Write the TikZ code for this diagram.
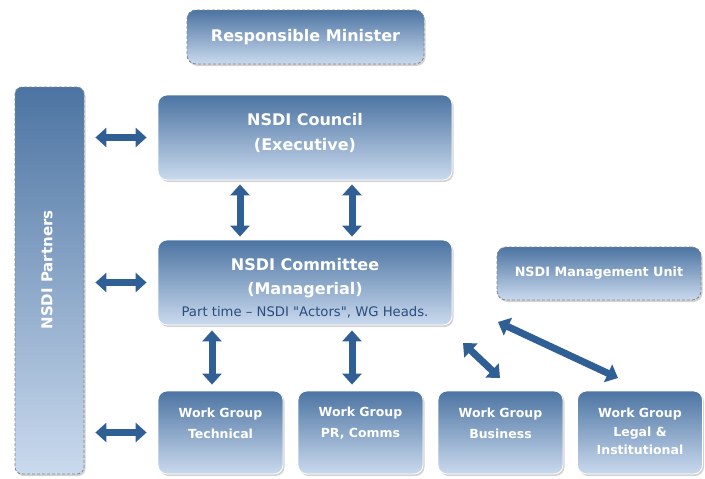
\documentclass[tikz,border=0pt]{standalone}
\usepackage{fontspec}
\setmainfont{DejaVu Sans}
\usetikzlibrary{arrows.meta,shadows,calc}

\definecolor{boxtop}{HTML}{4C74A2}
\definecolor{boxbot}{HTML}{CADAEE}
\definecolor{arrowblue}{HTML}{2F5F94}
\definecolor{subtext}{HTML}{2B4C7E}
\definecolor{dashgray}{HTML}{80868E}

\tikzset{
  panel/.style={rounded corners=9pt, top color=boxtop, bottom color=boxbot,
    draw=white, line width=0.8pt,
    drop shadow={opacity=0.35, shadow xshift=1.5pt, shadow yshift=-2pt},
    text=white, font=\bfseries, align=center, inner sep=0pt},
  dashpanel/.style={panel, draw=dashgray, dash pattern=on 3pt off 2pt},
  caption/.style={text=white, align=center, inner sep=0pt},
  wg/.style={panel, minimum width=125pt, minimum height=83pt},
  wgtext/.style={caption, font=\bfseries\fontsize{12.5}{21}\selectfont},
  link/.style={draw=arrowblue, line width=7pt,
    {Triangle[width=19pt,length=11pt]}-{Triangle[width=19pt,length=11pt]}},
}

\begin{document}
\begin{tikzpicture}[x=1pt,y=-1pt]
\useasboundingbox (0,0) rectangle (705,479);

% top level boxes
\node[dashpanel, minimum width=237pt, minimum height=54pt,
  font=\bfseries\fontsize{16}{18}\selectfont] (minister) at (305.5,37) {Responsible Minister};
\node[dashpanel, rounded corners=7pt, minimum width=69pt, minimum height=387pt] (partners) at (49.5,280.5) {};
\node[caption, rotate=90, font=\bfseries\fontsize{15}{17}\selectfont] (partnerslabel) at (47,270) {NSDI Partners};

\node[panel, minimum width=294pt, minimum height=85pt] (council) at (305,137.5) {};
\node[caption, font=\bfseries\fontsize{16}{25}\selectfont] (counciltitle) at (305,132.5) {NSDI Council\\(Executive)};

\node[panel, minimum width=294pt, minimum height=85pt] (committee) at (305,282.5) {};
\node[caption, font=\bfseries\fontsize{16}{24}\selectfont] (committeetitle) at (305,278) {NSDI Committee\\(Managerial)};
\node[text=subtext, inner sep=0pt, font=\fontsize{13.2}{15}\selectfont] (committeenote) at (305,312) {Part time -- NSDI \textquotedbl Actors\textquotedbl, WG Heads.};

\node[dashpanel, minimum width=204pt, minimum height=53pt,
  font=\bfseries\fontsize{12.8}{15}\selectfont] (unit) at (599,273.5) {NSDI Management Unit};

% work groups
\node[wg] (technical) at (220.5,432.5) {};
\node[wg] (comms) at (360.5,432.5) {};
\node[wg] (business) at (500.5,432.5) {};
\node[wg] (legal) at (640,432.5) {};
\node[wgtext] (technicaltext) at ($(technical)+(0,-9)$) {Work Group\\Technical};
\node[wgtext] (commstext) at ($(comms)+(0,-9)$) {Work Group\\PR, Comms};
\node[wgtext] (businesstext) at ($(business)+(0,-9)$) {Work Group\\Business};
\node[wgtext, font=\bfseries\fontsize{12.5}{18.5}\selectfont] (legaltext) at ($(legal)+(0,-1)$) {Work Group\\Legal \&\\Institutional};

% connector end points
\coordinate (c1) at (240,0);
\coordinate (c2) at (352,0);
\coordinate (d1) at (212,0);
\coordinate (d2) at (352,0);

% partners links
\draw[link, shorten <=11pt, shorten >=11pt] (partners.east |- council.west) -- (council.west);
\draw[link, shorten <=11pt, shorten >=11pt] (partners.east |- committee.west) -- (committee.west);
\draw[link, shorten <=11pt, shorten >=11pt] (partners.east |- technical.west) -- (technical.west);

% council to committee
\draw[link, shorten <=4pt, shorten >=3pt] (c1 |- council.south) -- (c1 |- committee.north);
\draw[link, shorten <=4pt, shorten >=3pt] (c2 |- council.south) -- (c2 |- committee.north);

% committee to work groups
\draw[link, shorten <=5pt, shorten >=6pt] (d1 |- committee.south) -- (d1 |- technical.north);
\draw[link, shorten <=5pt, shorten >=6pt] (d2 |- committee.south) -- (d2 |- comms.north);

% diagonal links
\coordinate (e1) at (463,343);
\coordinate (e2) at (500,378);
\coordinate (f1) at (498,322);
\coordinate (f2) at (618,378);
\draw[link] (e1) -- (e2);
\draw[link] (f1) -- (f2);
\end{tikzpicture}
\end{document}
